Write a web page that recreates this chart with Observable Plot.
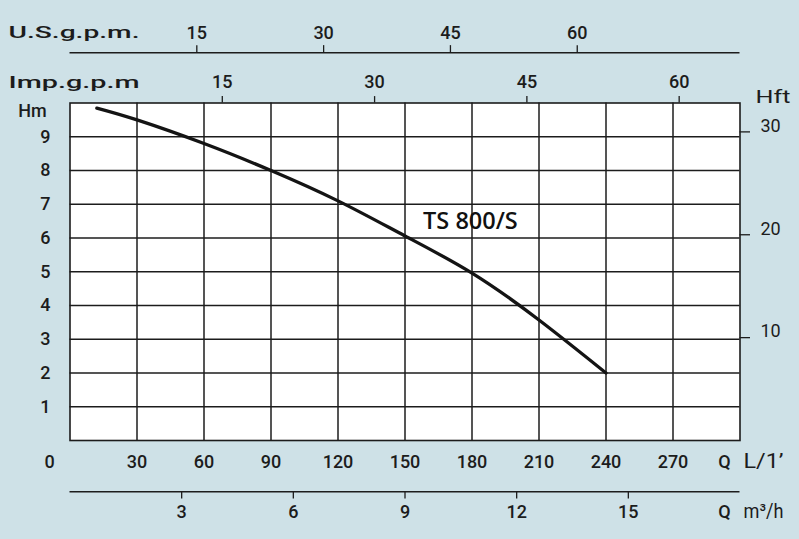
<!DOCTYPE html>
<html><head><meta charset="utf-8">
<script src="https://cdn.jsdelivr.net/npm/d3@7"></script>
<script src="https://cdn.jsdelivr.net/npm/@observablehq/plot@0.6"></script>
<style>
html,body{margin:0;padding:0;background:#cee1e7;}
#chart svg{display:block;}
</style></head><body><div id="chart"></div>
<script>
// Pump curve TS 800/S : flow in L/min, head in m
const flowLpm = [12, 30, 60, 90, 120, 150, 180, 210, 240];
const headM   = [9.85, 9.5, 8.8, 8.0, 7.1, 6.06, 4.96, 3.57, 2.0];
const curveLabel = "TS 800/S";

// Tick labels
const lpmTicks = [0, 30, 60, 90, 120, 150, 180, 210, 240, 270];
const hmTicks  = [1, 2, 3, 4, 5, 6, 7, 8, 9];
const hftTicks = [10, 20, 30];
const m3hTicks = [3, 6, 9, 12, 15];
const usTicks  = [15, 30, 45, 60];
const impTicks = [15, 30, 45, 60];

// Unit conversions to L/min and m
const L_PER_USGAL = 3.78541, L_PER_IMPGAL = 4.54609, LPM_PER_M3H = 1000 / 60, M_PER_FT = 0.3048;

const points = flowLpm.map((q, i) => ({q, h: headM[i]}));

// layout constants (data-space positions of the extra axes outside the frame)
const Y_US_LINE = 11.487, Y_US_TICK = 11.70;
const Y_IMP_TICK = 10.19;
const Y_M3H_LINE = -1.52, Y_M3H_TICK = -1.73;
const X_HFT_TICK = 304.7;

const INK = "#1c1c1c";
const F = "Roboto, 'DejaVu Sans', sans-serif";
const txt = {fill: INK, fontFamily: F, fontSize: 18, fontWeight: 500};

const chart = Plot.plot({
  width: 799, height: 539,
  marginLeft: 69.5, marginRight: 59.5, marginTop: 102.5, marginBottom: 99,
  x: {domain: [0, 300], axis: null},
  y: {domain: [0, 10], axis: null},
  style: {background: "transparent", fontFamily: F, color: INK},
  marks: [
    Plot.frame({fill: "white", stroke: null}),
    Plot.ruleX(lpmTicks.filter(d => d > 0), {stroke: INK, strokeWidth: 1.5}),
    Plot.ruleY(hmTicks, {stroke: INK, strokeWidth: 1.5}),
    Plot.frame({stroke: INK, strokeWidth: 1.6}),
    Plot.line(points, {x: "q", y: "h", curve: "natural", stroke: "#141414", strokeWidth: 3.3, strokeLinecap: "round"}),
    Plot.text([curveLabel], {x: 179.3, y: 6.49, text: d => d, fill: "#111", fontFamily: "'Open Sans', sans-serif", fontWeight: 600, fontSize: 23.5}),

    // left Hm axis labels
    Plot.text(hmTicks, {x: 0, y: d => d, text: d => String(d), textAnchor: "end", dx: -19.5, ...txt}),
    Plot.text(["Hm"], {x: 0, y: 10, text: d => d, dx: -37.5, dy: 8.2, ...txt}),

    // right Hft axis
    Plot.ruleY(hftTicks, {y: d => d * M_PER_FT, x1: 300, x2: X_HFT_TICK, stroke: INK, strokeWidth: 1.3}),
    Plot.text(hftTicks, {x: 300, y: d => d * M_PER_FT, text: d => String(d), textAnchor: "start", dx: 20.5, dy: -6, ...txt, fontWeight: 400}),
    Plot.text(["Hft"], {x: 300, y: 10, text: d => d, textAnchor: "start", dx: 15.5, dy: -6.5, ...txt, fontWeight: 400, fontSize: 19}),

    // bottom L/min labels
    Plot.text(lpmTicks.filter(d => d > 0), {x: d => d, y: 0, text: d => String(d), dy: 21.7, ...txt}),
    Plot.text([0], {x: 0, y: 0, text: d => String(d), dx: -20.5, dy: 21.7, ...txt}),
    Plot.text(["Q"], {x: 300, y: 0, text: d => d, dx: -15.5, dy: 21.7, ...txt}),
    Plot.text(["L/1\u2019"], {x: 300, y: 0, text: d => d, textAnchor: "start", dx: 3.5, dy: 20.7, ...txt, fontWeight: 400, fontSize: 20}),

    // bottom m3/h axis
    Plot.ruleY([Y_M3H_LINE], {x1: 0, x2: 300, stroke: INK, strokeWidth: 1.5}),
    Plot.ruleX(m3hTicks, {x: d => d * LPM_PER_M3H, y1: Y_M3H_LINE, y2: Y_M3H_TICK, stroke: INK, strokeWidth: 1.3}),
    Plot.text(m3hTicks, {x: d => d * LPM_PER_M3H, y: 0, text: d => String(d), dy: 71.7, ...txt}),
    Plot.text(["Q"], {x: 300, y: 0, text: d => d, dx: -15.5, dy: 71.7, ...txt}),
    Plot.text(["m\u00b3/h"], {x: 300, y: 0, text: d => d, textAnchor: "start", dx: 3.5, dy: 70.7, ...txt, fontWeight: 400, fontSize: 20}),

    // top US gpm axis
    Plot.ruleY([Y_US_LINE], {x1: 0, x2: 300, stroke: INK, strokeWidth: 1.5}),
    Plot.ruleX(usTicks, {x: d => d * L_PER_USGAL, y1: Y_US_LINE, y2: Y_US_TICK, stroke: INK, strokeWidth: 1.3}),
    Plot.text(usTicks, {x: d => d * L_PER_USGAL, y: 10, text: d => String(d), dy: -70.2, ...txt}),
    Plot.text(["U.S.g.p.m."], {x: 0, y: 10, text: d => d, textAnchor: "start", dx: -61.5, dy: -70.5, ...txt, fontSize: 17}),

    // top Imp gpm axis
    Plot.ruleX(impTicks, {x: d => d * L_PER_IMPGAL, y1: 10, y2: Y_IMP_TICK, stroke: INK, strokeWidth: 1.3}),
    Plot.text(impTicks, {x: d => d * L_PER_IMPGAL, y: 10, text: d => String(d), dy: -20.5, ...txt}),
    Plot.text(["Imp.g.p.m"], {x: 0, y: 10, text: d => d, textAnchor: "start", dx: -61.5, dy: -20.5, ...txt, fontSize: 17})
  ]
});
// stretch the wide unit captions to the reference's widths
const widths = {"U.S.g.p.m.": 131, "Imp.g.p.m": 131, "Hft": 35, "L/1\u2019": 40, "m\u00b3/h": 40};
d3.select(chart).selectAll("text").each(function() {
  const w = widths[this.textContent];
  if (w) d3.select(this).attr("textLength", w).attr("lengthAdjust", "spacingAndGlyphs");
});
document.getElementById("chart").appendChild(chart);
</script>
</body></html>
